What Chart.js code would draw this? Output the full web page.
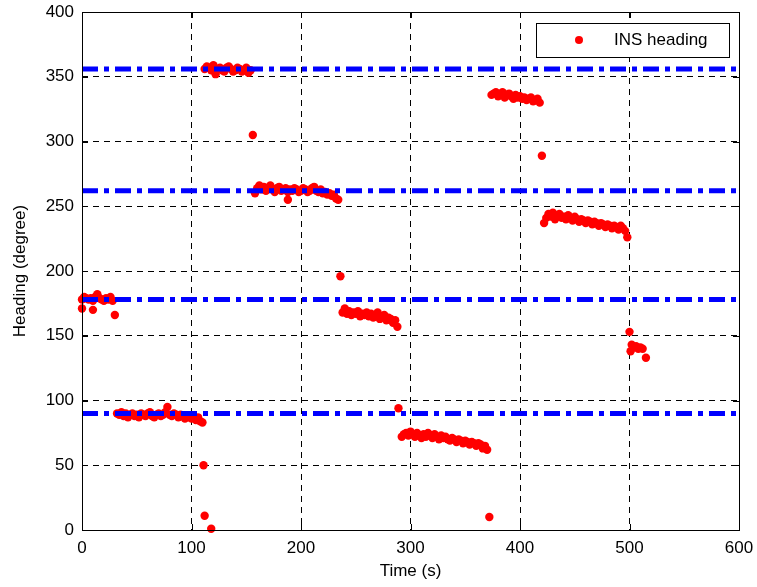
<!DOCTYPE html>
<html>
<head>
<meta charset="utf-8">
<script src="https://cdn.jsdelivr.net/npm/chart.js@4.4.1/dist/chart.umd.min.js"></script>
<style>
  html, body { margin: 0; padding: 0; background: #fff; }
  #wrap { width: 757px; height: 587px; }
</style>
</head>
<body>
<div id="wrap"><canvas id="heading" width="757" height="587"></canvas></div>
<script>
// INS heading samples (time in s, heading in degree)
var timeS = [
  0,2,4,6,8,10,12,14,16,18,20,22,24,26,28, 0,10,30,
  32,34,36,38,40,42,44,46,48,50,52,54,56,58,60,62,64,66,68,70,72,74,76,78,80,82,84,86,88,90,92,94,96,98,100,102,104,106,108,110,
  111,112,118,
  112,114,116,118,120,122,124,126,128,130,132,134,136,138,140,142,144,146,148,150,152,154, 156,
  158,160,162,164,166,168,170,172,174,176,178,180,182,184,186,188,190,192,194,196,198,200,202,204,206,208,210,212,214,216,218,220,222,224,226,228,230,232,234, 188,
  236,
  238,240,242,244,246,248,250,252,254,256,258,260,262,264,266,268,270,272,274,276,278,280,282,284,286,288,
  289,
  292,294,296,298,300,302,304,306,308,310,312,314,316,318,320,322,324,326,328,330,332,334,336,338,340,342,344,346,348,350,352,354,356,358,360,362,364,366,368,370,
  372,
  374,376,378,380,382,384,386,388,390,392,394,396,398,400,402,404,406,408,410,412,414,416,418,
  420,
  422,424,426,428,430,432,434,436,438,440,442,444,446,448,450,452,454,456,458,460,462,464,466,468,470,472,474,476,478,480,482,484,486,488,490,492,494,496,498,
  500,
  501,502,504,506,508,510,512,515
];
var headingDeg = [
  178,180,179,178,179,177,180,182,179,178,177,179,178,180,177, 171,170,166,
  90,89,91,88,90,87,89,90,88,89,87,90,89,88,90,91,88,87,89,90,88,89,91,95,89,88,90,89,87,89,88,86,88,87,86,88,85,87,84,83,
  50,11,1,
  356,358,357,355,359,352,356,357,355,354,357,358,356,354,355,357,356,354,355,357,353,355, 305,
  260,264,266,263,265,262,264,266,263,261,264,265,262,263,264,261,263,262,264,263,261,262,264,263,261,262,264,265,262,261,263,260,261,259,260,258,259,256,255, 255,
  196,
  168,171,167,169,166,168,167,169,165,167,166,168,165,167,164,166,168,163,165,166,162,164,163,160,162,157,
  94,
  72,74,75,73,76,74,72,75,73,71,74,72,75,73,71,74,72,70,73,71,72,70,69,71,70,68,70,69,67,69,68,66,68,67,65,67,66,63,65,62,
  10,
  336,337,338,335,336,338,334,336,337,335,333,336,334,335,333,334,332,333,334,331,332,333,330,
  289,
  237,241,244,242,245,240,243,244,241,242,240,243,241,239,242,240,238,240,239,237,239,238,236,238,237,235,237,236,234,236,235,233,235,234,232,235,233,231,226,
  153,
  138,143,141,142,140,141,140,133
];
// reference headings drawn as dash-dot lines
var refHeadings = [356, 262, 178, 90];
var timeRange = [0, 600];
var xTicks = [0, 100, 200, 300, 400, 500, 600];
var yTicks = [0, 50, 100, 150, 200, 250, 300, 350, 400];

var FONT = "'Liberation Sans', Arial, sans-serif";

var points = timeS.map(function(t, i) { return {x: t, y: headingDeg[i]}; });

var lineSets = refHeadings.map(function(h) {
  return {
    type: 'line',
    label: 'ref ' + h,
    data: [{x: timeRange[0], y: h}, {x: timeRange[1], y: h}],
    borderColor: '#0000ff',
    borderWidth: 5,
    borderDash: [16, 6, 5, 6],
    pointRadius: 0,
    fill: false,
    order: 0
  };
});

// box, inward ticks and the legend, MATLAB style
var boxPlugin = {
  id: 'box',
  afterDraw: function(chart) {
    var ctx = chart.ctx, a = chart.chartArea;
    ctx.save();
    ctx.strokeStyle = '#000';
    ctx.lineWidth = 1;
    ctx.strokeRect(a.left + 0.5, a.top + 0.5, a.right - a.left, a.bottom - a.top);
    var xs = chart.scales.x, ys = chart.scales.y;
    ctx.beginPath();
    xTicks.forEach(function(v) {
      var px = Math.round(xs.getPixelForValue(v)) + 0.5;
      ctx.moveTo(px, a.bottom); ctx.lineTo(px, a.bottom - 6);
      ctx.moveTo(px, a.top); ctx.lineTo(px, a.top + 6);
    });
    yTicks.forEach(function(v) {
      var py = Math.round(ys.getPixelForValue(v)) + 0.5;
      ctx.moveTo(a.left, py); ctx.lineTo(a.left + 6, py);
      ctx.moveTo(a.right, py); ctx.lineTo(a.right - 6, py);
    });
    ctx.stroke();

    // legend
    var lx = 536, ly = 23, lw = 193, lh = 34;
    ctx.fillStyle = '#fff';
    ctx.fillRect(lx, ly, lw, lh);
    ctx.strokeRect(lx + 0.5, ly + 0.5, lw, lh);
    ctx.fillStyle = '#ff0000';
    ctx.beginPath();
    ctx.arc(579, 40, 4, 0, Math.PI * 2);
    ctx.fill();
    ctx.fillStyle = '#000';
    ctx.font = '17px ' + FONT;
    ctx.textBaseline = 'middle';
    ctx.fillText('INS heading', 614, 40);
    ctx.restore();
  }
};

new Chart('heading', {
  type: 'scatter',
  data: {
    datasets: lineSets.concat([{
      label: 'INS heading',
      data: points,
      backgroundColor: '#ff0000',
      borderColor: '#ff0000',
      pointRadius: 4.2,
      pointBorderWidth: 0,
      clip: false,
      order: 1
    }])
  },
  options: {
    responsive: false,
    animation: false,
    devicePixelRatio: 1,
    layout: { autoPadding: false, padding: { left: 0, top: 12, right: 18, bottom: 0 } },
    plugins: { legend: { display: false }, tooltip: { enabled: false } },
    scales: {
      x: {
        type: 'linear',
        min: 0, max: 600,
        afterFit: function(s) { s.height = 57; s.paddingLeft = 0; s.paddingRight = 0; },
        afterBuildTicks: function(s) { s.ticks = xTicks.map(function(v) { return {value: v}; }); },
        ticks: { color: '#000', font: { family: FONT, size: 17 }, padding: 8, maxRotation: 0 },
        grid: { color: '#000', drawTicks: false, lineWidth: 1 },
        border: { display: false, dash: [6, 5] },
        title: { display: true, text: 'Time (s)', color: '#000', font: { family: FONT, size: 17 }, padding: { top: 0, bottom: 5 } }
      },
      y: {
        type: 'linear',
        min: 0, max: 400,
        afterFit: function(s) { s.width = 82; s.paddingTop = 0; s.paddingBottom = 0; },
        afterBuildTicks: function(s) { s.ticks = yTicks.map(function(v) { return {value: v}; }); },
        ticks: { color: '#000', font: { family: FONT, size: 17 }, padding: 8 },
        grid: { color: '#000', drawTicks: false, lineWidth: 1 },
        border: { display: false, dash: [6, 5] },
        title: { display: true, text: 'Heading (degree)', color: '#000', font: { family: FONT, size: 17 }, padding: { top: 10, bottom: 0 } }
      }
    }
  },
  plugins: [boxPlugin]
});
</script>
</body>
</html>
